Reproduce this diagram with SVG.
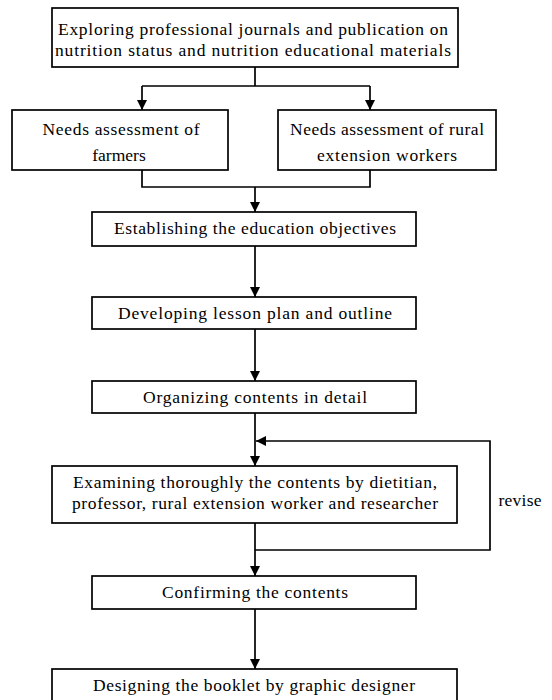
<svg xmlns="http://www.w3.org/2000/svg" width="552" height="700" viewBox="0 0 552 700">
<style>
.box{fill:#fff;stroke:#000;stroke-width:1.7}
.t{font-family:"Liberation Serif","Times New Roman",serif;font-size:17.5px;fill:#000;text-anchor:middle}
.c{fill:none;stroke:#000;stroke-width:1.7}
</style>
<defs>
<marker id="ah" viewBox="0 0 10 10" refX="10" refY="5" markerWidth="10" markerHeight="10" markerUnits="userSpaceOnUse" orient="auto">
<path d="M0,0 L10,5 L0,10 Z" fill="#000"/>
</marker>
</defs>
<rect width="552" height="700" fill="#fff"/>
<g id="connectors">
<path class="c" d="M255,67 V86 M142,86 H370"/>
<path class="c" d="M142,86 V110" marker-end="url(#ah)"/>
<path class="c" d="M370,86 V110" marker-end="url(#ah)"/>
<path class="c" d="M142,170 V187 H370 V170"/>
<path class="c" d="M255,187 V212" marker-end="url(#ah)"/>
<path class="c" d="M255,246 V297" marker-end="url(#ah)"/>
<path class="c" d="M255,329 V381" marker-end="url(#ah)"/>
<path class="c" d="M255,413 V466" marker-end="url(#ah)"/>
<path class="c" d="M255,523 V576" marker-end="url(#ah)"/>
<path class="c" d="M255,550 H490 V441 H256" marker-end="url(#ah)"/>
<path class="c" d="M255,609 V669" marker-end="url(#ah)"/>
<text class="t" x="520" y="506" textLength="43" lengthAdjust="spacing">revise</text>
</g>
<g id="n1">
<rect class="box" x="52" y="8" width="406" height="59"/>
<text class="t" x="253" y="35" textLength="390" lengthAdjust="spacing">Exploring professional journals and publication on</text>
<text class="t" x="253" y="56" textLength="396" lengthAdjust="spacing">nutrition status and nutrition educational materials</text>
</g>
<g id="n2">
<rect class="box" x="12" y="110" width="216" height="60"/>
<text class="t" x="121" y="135" textLength="157" lengthAdjust="spacing">Needs assessment of</text>
<text class="t" x="119" y="161">farmers</text>
</g>
<g id="n3">
<rect class="box" x="278" y="110" width="218" height="60"/>
<text class="t" x="387" y="135" textLength="194" lengthAdjust="spacing">Needs assessment of rural</text>
<text class="t" x="387" y="161" textLength="140" lengthAdjust="spacing">extension workers</text>
</g>
<g id="n4">
<rect class="box" x="92" y="212" width="324" height="34"/>
<text class="t" x="255" y="234" textLength="282" lengthAdjust="spacing">Establishing the education objectives</text>
</g>
<g id="n5">
<rect class="box" x="92" y="297" width="324" height="32"/>
<text class="t" x="255" y="319" textLength="274" lengthAdjust="spacing">Developing  lesson plan and outline</text>
</g>
<g id="n6">
<rect class="box" x="92" y="381" width="324" height="32"/>
<text class="t" x="255" y="403" textLength="224" lengthAdjust="spacing">Organizing contents in detail</text>
</g>
<g id="n7">
<rect class="box" x="52" y="466" width="405" height="57"/>
<text class="t" x="255" y="488" textLength="364" lengthAdjust="spacing">Examining thoroughly the contents by dietitian,</text>
<text class="t" x="255" y="509" textLength="366" lengthAdjust="spacing">professor, rural extension worker and researcher</text>
</g>
<g id="n8">
<rect class="box" x="92" y="576" width="324" height="33"/>
<text class="t" x="255" y="598" textLength="186" lengthAdjust="spacing">Confirming the contents</text>
</g>
<g id="n9">
<rect class="box" x="52" y="669" width="405" height="45"/>
<text class="t" x="254" y="691" textLength="322" lengthAdjust="spacing">Designing the booklet by graphic designer</text>
</g>
</svg>
